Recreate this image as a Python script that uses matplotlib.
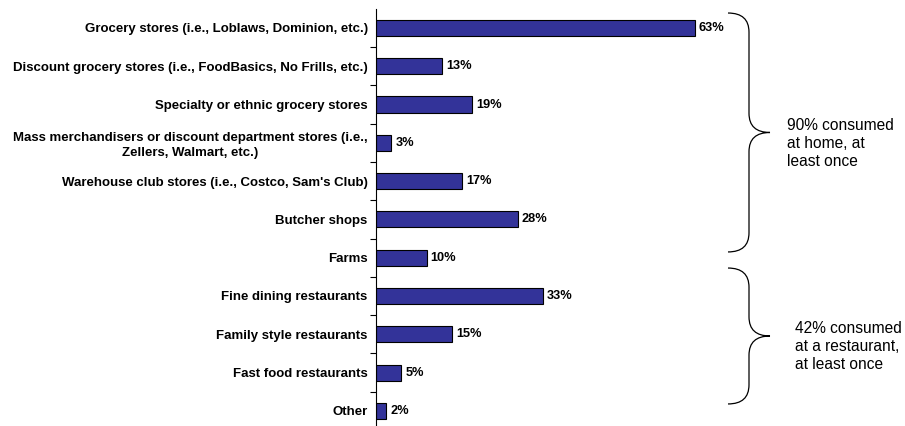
import matplotlib.pyplot as plt
from matplotlib.path import Path
from matplotlib.patches import PathPatch
import matplotlib.transforms as mtransforms
import numpy as np

plt.rcParams['font.family'] = ['Liberation Sans', 'DejaVu Sans']

categories = [
    "Grocery stores (i.e., Loblaws, Dominion, etc.)",
    "Discount grocery stores (i.e., FoodBasics, No Frills, etc.)",
    "Specialty or ethnic grocery stores",
    "Mass merchandisers or discount department stores (i.e.,\nZellers, Walmart, etc.)",
    "Warehouse club stores (i.e., Costco, Sam's Club)",
    "Butcher shops",
    "Farms",
    "Fine dining restaurants",
    "Family style restaurants",
    "Fast food restaurants",
    "Other",
]
values = [63, 13, 19, 3, 17, 28, 10, 33, 15, 5, 2]

# side notes with the span of their bracket in row units: (top, bottom)
group_notes = [
    "90% consumed\nat home, at\nleast once",
    "42% consumed\nat a restaurant,\nat least once",
]
group_spans = [(-0.39, 5.85), (6.27, 9.82)]
note_x_px = [787, 795]
note_y = [3.03, 8.33]

W, H = 905, 426
fig = plt.figure(figsize=(W / 100, H / 100), dpi=100)
left_px, right_px = 376, 728
top_px, bottom_px = 8.8, 430
ax = fig.add_axes([left_px / W, 1 - bottom_px / H,
                   (right_px - left_px) / W, (bottom_px - top_px) / H])

y = np.arange(len(categories))
ax.barh(y, values, height=0.42, color='#333399', edgecolor='black', linewidth=0.8)

for yi, v in zip(y, values):
    ax.text(v + 0.8, yi, f"{v}%", va='center', ha='left',
            fontsize=9.2, fontweight='bold')

ax.set_xlim(0, (right_px - left_px) / 5.06)
ax.set_ylim(len(categories) - 0.5, -0.5)

ax.set_yticks(y)
ax.set_yticklabels(categories, fontsize=9.5, fontweight='bold',
                   multialignment='center', linespacing=1.25)
ax.set_yticks(np.arange(len(categories)) + 0.5, minor=True)
ax.tick_params(axis='y', which='major', length=0, pad=6)
ax.tick_params(axis='y', which='minor', length=4, width=0.8, direction='out')
ax.set_xticks([])

for side in ['top', 'right', 'bottom']:
    ax.spines[side].set_visible(False)
ax.spines['left'].set_linewidth(0.8)


def brace(ax, y0, y1, x0, w, trans):
    # curly bracket opening to the left, tip pointing right
    ym = (y0 + y1) / 2
    r = 0.5
    xl, xm, xt = x0, x0 + w * 0.5, x0 + w
    verts = [
        (xl, y0), (xm, y0), (xm, y0 + r),
        (xm, ym - r), (xm, ym), (xt, ym),
        (xm, ym), (xm, ym + r),
        (xm, y1 - r), (xm, y1), (xl, y1),
    ]
    codes = [Path.MOVETO, Path.CURVE3, Path.CURVE3,
             Path.LINETO, Path.CURVE3, Path.CURVE3,
             Path.CURVE3, Path.CURVE3,
             Path.LINETO, Path.CURVE3, Path.CURVE3]
    ax.add_patch(PathPatch(Path(verts, codes), facecolor='none',
                           edgecolor='black', linewidth=0.9,
                           transform=trans, clip_on=False))


trans = mtransforms.blended_transform_factory(fig.transFigure, ax.transData)
for (y0, y1), label, nx, ny in zip(group_spans, group_notes, note_x_px, note_y):
    brace(ax, y0, y1, x0=728 / W, w=42 / W, trans=trans)
    ax.text(nx / W, ny, label, transform=trans,
            ha='left', va='center', fontsize=11.2, linespacing=1.25)

fig.savefig('out.png', dpi=100)
